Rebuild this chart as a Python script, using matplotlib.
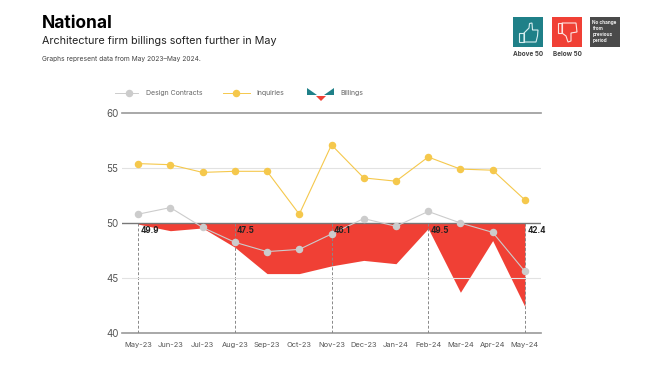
import matplotlib

matplotlib.use("Agg")
import matplotlib.pyplot as plt
from matplotlib.patches import Polygon, Rectangle

months = ["May-23", "Jun-23", "Jul-23", "Aug-23", "Sep-23", "Oct-23", "Nov-23",
          "Dec-23", "Jan-24", "Feb-24", "Mar-24", "Apr-24", "May-24"]
billings = [49.9, 49.3, 49.55, 47.8, 45.4, 45.4, 46.1, 46.6, 46.3, 49.5, 43.7, 48.4, 42.4]
design = [50.8, 51.4, 49.6, 48.25, 47.4, 47.6, 49.0, 50.4, 49.7, 51.05, 50.0, 49.15, 45.6]
inquiries = [55.4, 55.3, 54.6, 54.7, 54.7, 50.8, 57.1, 54.1, 53.8, 56.0, 54.9, 54.8, 52.1]
callout_months = ["May-23", "Aug-23", "Nov-23", "Feb-24", "May-24"]
callout_labels = ["49.9", "47.5", "46.1", "49.5", "42.4"]
yticks = [40, 45, 50, 55, 60]

W, H = 653, 367
RED = "#f04035"
TEAL = "#1f8088"
YELLOW = "#f5c84c"
GREY = "#cccccc"

plt.rcParams["font.family"] = ["Inter", "DejaVu Sans"]

fig = plt.figure(figsize=(W / 100, H / 100), dpi=100)
ax = fig.add_axes([122 / W, 1 - 333 / H, 419 / W, 220 / H])
x = list(range(len(months)))

ax.fill_between(x, billings, 50, color=RED, lw=0, zorder=2)
ax.plot(x, design, color=GREY, lw=0.8, marker="o", ms=4.4, zorder=4)
ax.plot(x, inquiries, color=YELLOW, lw=0.8, marker="o", ms=4.4, zorder=4)

for month, label in zip(callout_months, callout_labels):
    i = months.index(month)
    ax.plot([i, i], [40, 50], color="#888888", lw=0.7, ls=(0, (3, 2)), zorder=3)
    ax.text(i + 0.07, 49.75, label, fontsize=5.8, fontweight="bold", color="#222222",
            va="top", ha="left", zorder=5, clip_on=False)

ax.set_xlim(-0.5, 12.5)
ax.set_ylim(40, 60)
ax.set_xticks(x, months)
ax.set_yticks(yticks)
ax.tick_params(axis="both", length=0)
ax.tick_params(axis="x", labelsize=5.4, labelcolor="#555555", pad=6.5)
ax.tick_params(axis="y", labelsize=7, labelcolor="#555555", pad=2.5)
for side in ax.spines:
    ax.spines[side].set_visible(False)
ax.axhline(60, color="#999999", lw=1.2, zorder=1, clip_on=False)
ax.axhline(55, color="#e2e2e2", lw=0.8, zorder=1)
ax.axhline(50, color="#777777", lw=1.0, zorder=3)
ax.axhline(45, color="#e2e2e2", lw=0.8, zorder=3)
ax.axhline(40, color="#999999", lw=1.2, zorder=1, clip_on=False)

# overlay in pixel coords for header, legend and icons
ov = fig.add_axes([0, 0, 1, 1], zorder=10)
ov.set_xlim(0, W)
ov.set_ylim(H, 0)
ov.axis("off")

ov.text(42, 24, "National", fontsize=12.5, fontweight="bold", color="black", va="center")
ov.text(42, 41.5, "Architecture firm billings soften further in May", fontsize=7.75,
        color="#222222", va="center")
ov.text(42, 59, "Graphs represent data from May 2023–May 2024.", fontsize=4.8,
        color="#444444", va="center")

# legend
ov.plot([115, 138], [93, 93], color=GREY, lw=0.7)
ov.plot([129], [93], "o", color=GREY, ms=4.4)
ov.text(146, 93.5, "Design Contracts", fontsize=5, color="#666666", va="center")
ov.plot([223, 250], [93, 93], color=YELLOW, lw=0.7)
ov.plot([236], [93], "o", color=YELLOW, ms=4.4)
ov.text(256, 93.5, "Inquiries", fontsize=5, color="#666666", va="center")
ov.add_patch(Polygon([(307, 88), (307, 95), (317, 95)], color=TEAL, lw=0))
ov.add_patch(Polygon([(334, 88), (334, 95), (324, 95)], color=TEAL, lw=0))
ov.add_patch(Polygon([(316, 96), (326, 96), (321, 101)], color=RED, lw=0))
ov.text(340, 93.5, "Billings", fontsize=5, color="#666666", va="center")

# status icons
ov.add_patch(Rectangle((513, 17), 30, 30, color=TEAL, lw=0))
ov.add_patch(Rectangle((552, 17), 30, 30, color=RED, lw=0))
ov.add_patch(Rectangle((590, 17), 30, 30, color="#4a4a4a", lw=0))
thumb = [(524, 33), (529, 28), (529.5, 23.5), (532, 23), (532.5, 30), (538, 30),
         (537.5, 36), (536, 42), (524, 42)]
ov.add_patch(Polygon(thumb, fill=False, ec="#d8eef0", lw=0.8))
ov.add_patch(Rectangle((519, 33), 5, 9, fill=False, ec="#d8eef0", lw=0.8))
thumb_down = [(562, 23), (576, 23), (577, 32), (571, 33), (571, 41), (568, 42),
              (566, 36), (562, 33)]
ov.add_patch(Polygon(thumb_down, fill=False, ec="#fde5e2", lw=0.8))
ov.add_patch(Rectangle((558, 23), 4, 10, fill=False, ec="#fde5e2", lw=0.8))
for k, line in enumerate(["No change", "from", "previous", "period"]):
    ov.text(592.5, 22.5 + k * 6.1, line, fontsize=3.4, fontweight="bold", color="#eeeeee", va="center")
ov.text(528, 54.5, "Above 50", fontsize=4.6, fontweight="bold", color="#444444", va="center", ha="center")
ov.text(567, 54.5, "Below 50", fontsize=4.6, fontweight="bold", color="#444444", va="center", ha="center")

fig.savefig("out.png", dpi=100)
plt.close(fig)
